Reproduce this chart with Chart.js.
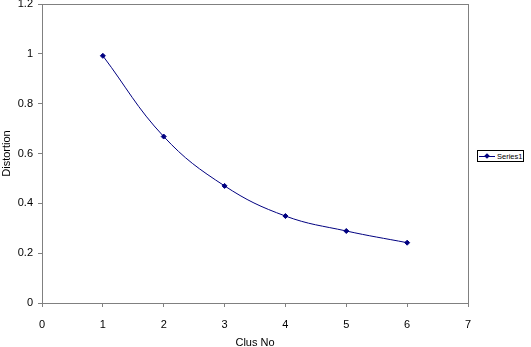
<!DOCTYPE html>
<html>
<head>
<meta charset="utf-8">
<script src="https://cdn.jsdelivr.net/npm/chart.js@4"></script>
<style>
  html, body { margin: 0; padding: 0; background: #fff; }
  #wrap { position: relative; width: 531px; height: 347px; }
  #legend {
    position: absolute; left: 477px; top: 150px; width: 47px; height: 12px;
    border: 1px solid #000; box-sizing: border-box; background: #fff;
    font: 7.5px "Liberation Sans", Arial, sans-serif; color: #000;
    display: flex; align-items: center; white-space: nowrap; overflow: hidden;
  }
  #legend .sw { position: relative; width: 16px; height: 10px; margin-left: 1px; flex: none; }
  #legend .sw:before { content: ""; position: absolute; left: 0; right: 0; top: 5px; height: 1px; background: #000080; }
  #legend .sw:after { content: ""; position: absolute; left: 6px; top: 3px; width: 4px; height: 4px; background: #000080; transform: rotate(45deg); }
  #legend span { margin-left: 2px; }
</style>
</head>
<body>
<div id="wrap">
  <canvas id="myChart" width="531" height="347"></canvas>
  <div id="legend"><div class="sw"></div><span>Series1</span></div>
</div>
<script>
const clusters = [1, 2, 3, 4, 5, 6];
const distortion = [0.992, 0.668, 0.470, 0.349, 0.289, 0.242];
const xTicks = [0, 1, 2, 3, 4, 5, 6, 7];
const yTicks = [0, 0.2, 0.4, 0.6, 0.8, 1, 1.2];

const font = { family: '"Liberation Sans", Arial, sans-serif', size: 11 };

const frame = {
    id: 'frame',
    afterDraw(chart) {
        const a = chart.chartArea;
        const c = chart.ctx;
        c.save();
        c.strokeStyle = '#808080';
        c.lineWidth = 1;
        c.strokeRect(a.left + 0.5, a.top + 0.5, a.right - a.left, a.bottom - a.top);
        c.restore();
    }
};

document.addEventListener('DOMContentLoaded', function () {
    const ctx = document.getElementById('myChart').getContext('2d');
    new Chart(ctx, {
        type: 'scatter',
        data: {
            datasets: [{
                label: 'Series1',
                data: clusters.map((x, i) => ({ x: x, y: distortion[i] })),
                showLine: true,
                borderColor: '#000080',
                backgroundColor: '#000080',
                borderWidth: 1,
                tension: 0.4,
                pointStyle: 'rectRot',
                pointRadius: 2.5,
                pointHoverRadius: 2.5
            }]
        },
        options: {
            responsive: false,
            animation: false,
            events: [],
            layout: { padding: { top: 4, right: 63, left: 0, bottom: 0 } },
            plugins: { legend: { display: false }, tooltip: { enabled: false } },
            scales: {
                x: {
                    type: 'linear', min: 0, max: 7,
                    afterBuildTicks: s => { s.ticks = xTicks.map(v => ({ value: v })); },
                    afterFit: s => { s.height = 44; s.paddingLeft = 0; s.paddingRight = 0; },
                    grid: { drawOnChartArea: false, color: '#808080', tickLength: 4 },
                    border: { color: '#808080' },
                    ticks: { color: '#000', font: font, padding: 11, maxRotation: 0 },
                    title: { display: true, text: 'Clus No', color: '#000', font: font, padding: { top: 0, bottom: -3 } }
                },
                y: {
                    min: 0, max: 1.2,
                    afterBuildTicks: s => { s.ticks = yTicks.map(v => ({ value: v })); },
                    afterFit: s => { s.width = 42; s.paddingTop = 0; s.paddingBottom = 0; },
                    grid: { drawOnChartArea: false, color: '#808080', tickLength: 4 },
                    border: { color: '#808080' },
                    ticks: { color: '#000', font: font, padding: 5, callback: v => String(Math.round(v * 10) / 10) },
                    title: { display: true, text: 'Distortion', color: '#000', font: font, padding: 0 }
                }
            }
        },
        plugins: [frame]
    });
});
</script>
</body>
</html>
